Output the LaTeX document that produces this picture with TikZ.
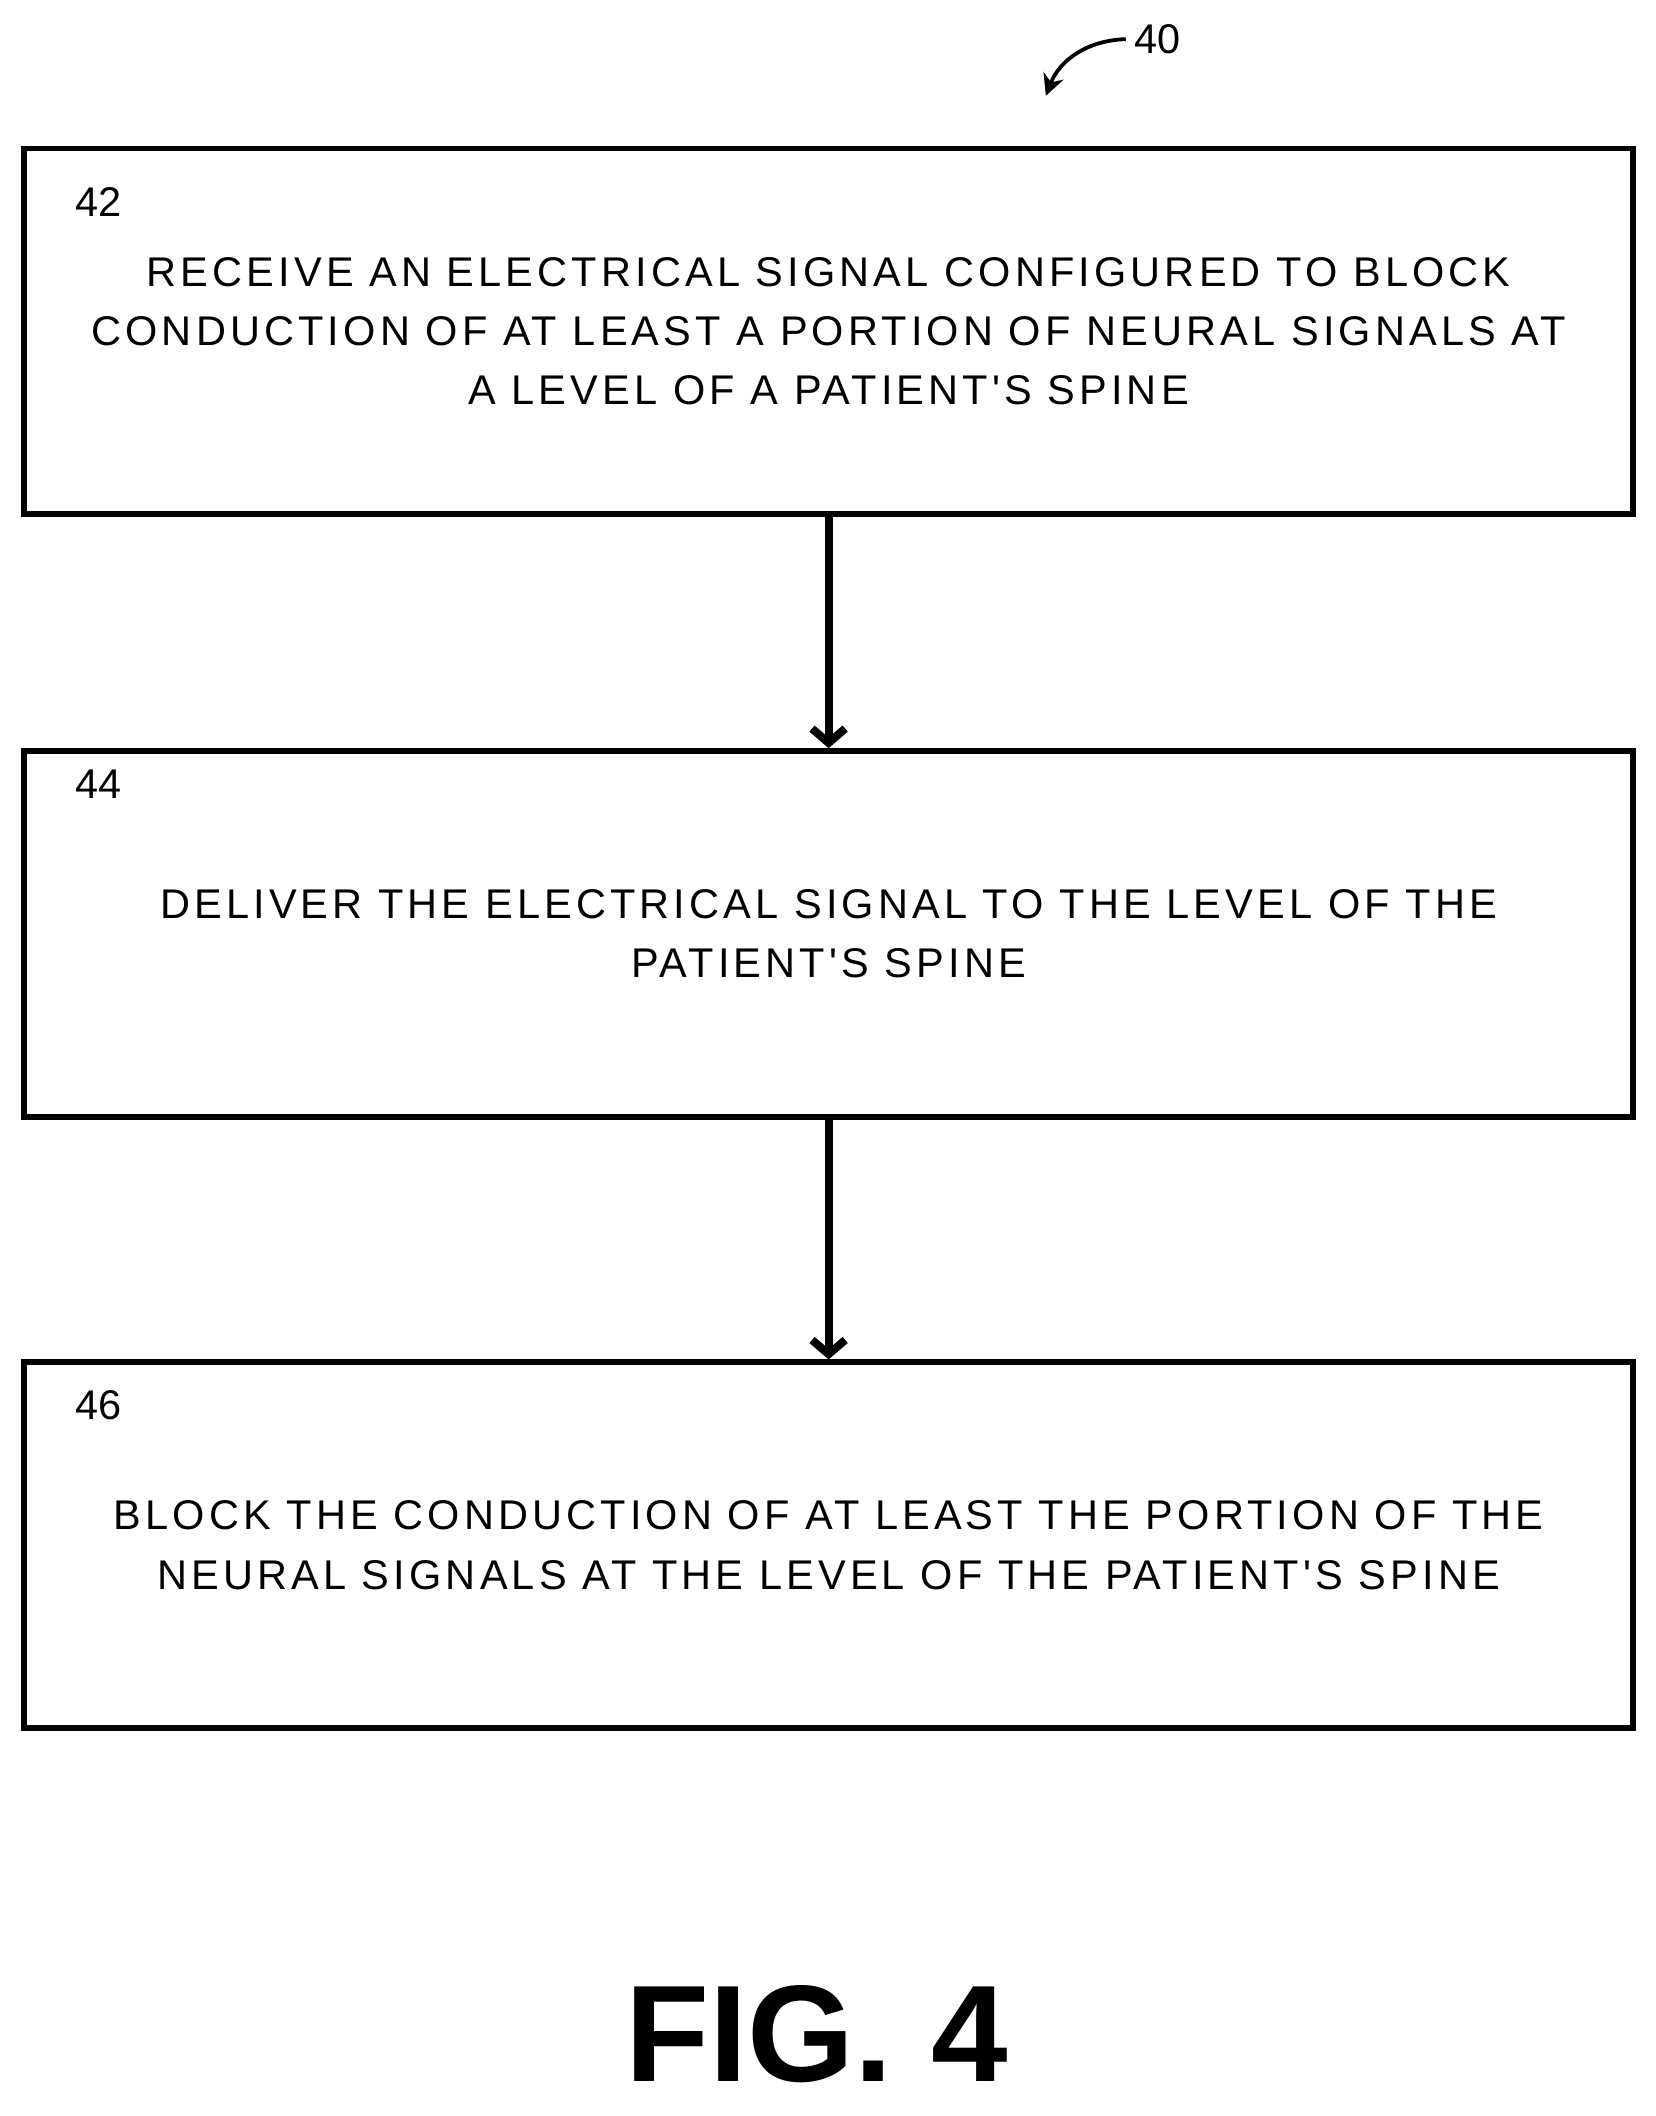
\documentclass[tikz,border=0pt]{standalone}
\usepackage{fontspec}
\setmainfont{Liberation Sans}
\newfontfamily\boxfont[LetterSpace=10]{Liberation Sans}
\usetikzlibrary{positioning,arrows.meta}
\tikzset{
  stepbox/.style={draw,line width=2.4pt,minimum width=23.84cm,minimum height=5.42cm,
    align=center,font=\boxfont\fontsize{17.5}{25}\selectfont},
  refnum/.style={font=\fontsize{17.5}{21}\selectfont},
  flow/.style={line width=3.4pt,-{Straight Barb[length=6pt,width=14pt]}}
}
\begin{document}
\begin{tikzpicture}
        % Draw page frame
        \useasboundingbox (0,0) rectangle (24.54,-31.36);
        % Draw steps
        \node[stepbox] (receive) at (12.28,-4.91) {RECEIVE AN ELECTRICAL SIGNAL CONFIGURED TO BLOCK\\CONDUCTION OF AT LEAST A PORTION OF NEURAL SIGNALS AT\\A LEVEL OF A PATIENT'S SPINE};
        \node[stepbox] (deliver) at (12.28,-13.84) {DELIVER THE ELECTRICAL SIGNAL TO THE LEVEL OF THE\\PATIENT'S SPINE};
        \node[stepbox] (block) at (12.28,-22.90) {BLOCK THE CONDUCTION OF AT LEAST THE PORTION OF THE\\NEURAL SIGNALS AT THE LEVEL OF THE PATIENT'S SPINE};
        % Draw reference numbers
        \node[refnum] (n42) at (1.46,-3.0) {42};
        \node[refnum] (n44) at (1.46,-11.62) {44};
        \node[refnum] (n46) at (1.46,-20.82) {46};
        \node[refnum] (n40) at (17.15,-0.58) {40};
        \coordinate (tip40) at (15.5,-1.42);
        % Draw arrows
        \draw[flow] (receive) -- (deliver);
        \draw[flow] (deliver) -- (block);
        \draw[line width=1.6pt,-{Stealth[length=9pt,width=9pt]}] (n40.west) .. controls (16.1,-0.6) and (15.7,-0.9) .. (tip40);
        % Draw figure label
        \node[font=\fontsize{58}{58}\bfseries\selectfont] (fig) at (12.1,-30.15) {FIG. 4};
\end{tikzpicture}
\end{document}
